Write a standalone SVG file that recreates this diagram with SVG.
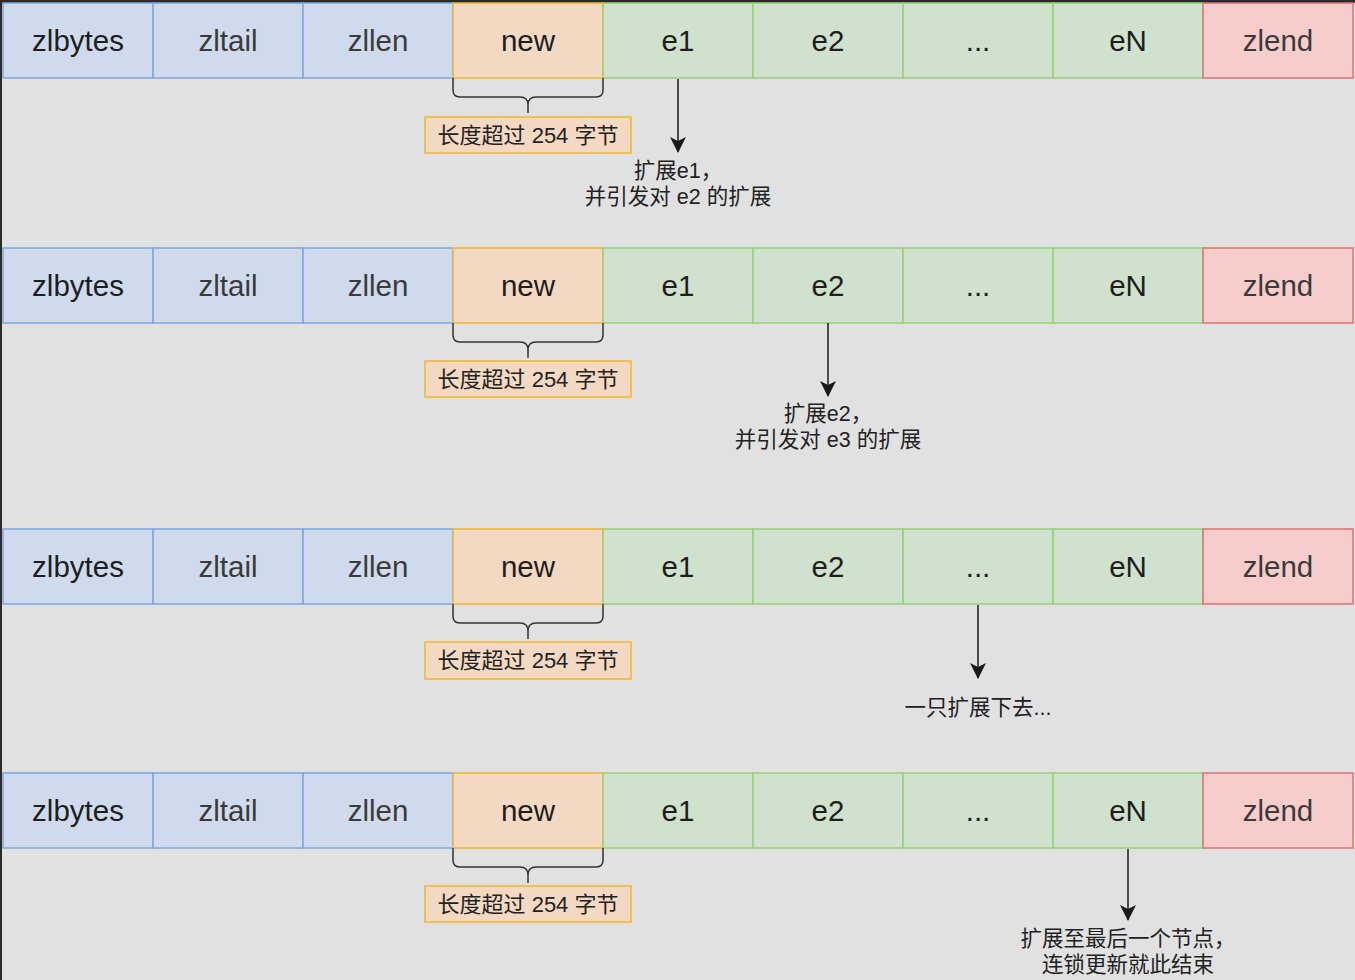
<svg xmlns="http://www.w3.org/2000/svg" width="1355" height="980" viewBox="0 0 1355 980">
<defs>
<style>
.bg{fill:#e1e1e1}
.b{fill:#cfdbec;stroke:#7ea6e0;stroke-width:1.5}
.o{fill:#f3d9c2;stroke:#f2b52c;stroke-width:1.5}
.g{fill:#d0e1cd;stroke:#97d077;stroke-width:1.5}
.r{fill:#f7cdcc;stroke:#e07070;stroke-width:1.5}
.t{font-family:"Liberation Sans","Noto Sans CJK SC",sans-serif;font-size:29.5px;fill:#1e1e1e;text-anchor:middle}
.t2{fill:#3a3a3a}
.lb{font-family:"Liberation Sans","Noto Sans CJK SC",sans-serif;font-size:22px;fill:#222;text-anchor:middle}
.at{font-family:"Liberation Sans","Noto Sans CJK SC",sans-serif;font-size:21.5px;fill:#222;text-anchor:middle}
.brace{fill:none;stroke:#333;stroke-width:1.5}
.arr{stroke:#1a1a1a;stroke-width:1.5;fill:none;marker-end:url(#ah)}
</style>
<marker id="ah" viewBox="0 0 16 16" refX="15" refY="8" markerWidth="16" markerHeight="16" markerUnits="userSpaceOnUse" orient="auto">
<path d="M0,0 L4,8 L0,16 L16,8 Z" fill="#1a1a1a"/>
</marker>
</defs>
<rect class="bg" x="0" y="0" width="1355" height="980"/>
<rect x="0" y="0" width="1355" height="3" fill="#2b2b2b"/>
<rect x="0" y="0" width="2" height="980" fill="#2b2b2b"/>

<!-- Row 1 -->
<g id="row1">
<g id="r1-zlbytes"><rect class="b" x="3" y="3" width="150" height="75"/><text class="t" x="78" y="51">zlbytes</text></g>
<g id="r1-zltail"><rect class="b" x="153" y="3" width="150" height="75"/><text class="t t2" x="228" y="51">zltail</text></g>
<g id="r1-zllen"><rect class="b" x="303" y="3" width="150" height="75"/><text class="t t2" x="378" y="51">zllen</text></g>
<g id="r1-new"><rect class="o" x="453" y="3" width="150" height="75"/><text class="t" x="528" y="51">new</text></g>
<g id="r1-e1"><rect class="g" x="603" y="3" width="150" height="75"/><text class="t" x="678" y="51">e1</text></g>
<g id="r1-e2"><rect class="g" x="753" y="3" width="150" height="75"/><text class="t" x="828" y="51">e2</text></g>
<g id="r1-dots"><rect class="g" x="903" y="3" width="150" height="75"/><text class="t" x="978" y="51">...</text></g>
<g id="r1-eN"><rect class="g" x="1053" y="3" width="150" height="75"/><text class="t" x="1128" y="51">eN</text></g>
<g id="r1-zlend"><rect class="r" x="1203" y="3" width="150" height="75"/><text class="t t2" x="1278" y="51">zlend</text></g>
<g id="r1-label"><rect class="o" x="425" y="117" width="206" height="36"/><text class="lb" x="528" y="143">长度超过 254 字节</text></g>
<g id="r1-note"><text class="at" x="678" y="178">扩展e1，</text><text class="at" x="678" y="204">并引发对 e2 的扩展</text></g>
</g>

<!-- Row 2 -->
<g id="row2">
<g id="r2-zlbytes"><rect class="b" x="3" y="248" width="150" height="75"/><text class="t" x="78" y="296">zlbytes</text></g>
<g id="r2-zltail"><rect class="b" x="153" y="248" width="150" height="75"/><text class="t t2" x="228" y="296">zltail</text></g>
<g id="r2-zllen"><rect class="b" x="303" y="248" width="150" height="75"/><text class="t t2" x="378" y="296">zllen</text></g>
<g id="r2-new"><rect class="o" x="453" y="248" width="150" height="75"/><text class="t" x="528" y="296">new</text></g>
<g id="r2-e1"><rect class="g" x="603" y="248" width="150" height="75"/><text class="t" x="678" y="296">e1</text></g>
<g id="r2-e2"><rect class="g" x="753" y="248" width="150" height="75"/><text class="t" x="828" y="296">e2</text></g>
<g id="r2-dots"><rect class="g" x="903" y="248" width="150" height="75"/><text class="t" x="978" y="296">...</text></g>
<g id="r2-eN"><rect class="g" x="1053" y="248" width="150" height="75"/><text class="t" x="1128" y="296">eN</text></g>
<g id="r2-zlend"><rect class="r" x="1203" y="248" width="150" height="75"/><text class="t t2" x="1278" y="296">zlend</text></g>
<g id="r2-label"><rect class="o" x="425" y="361" width="206" height="36"/><text class="lb" x="528" y="387">长度超过 254 字节</text></g>
<g id="r2-note"><text class="at" x="828" y="421">扩展e2，</text><text class="at" x="828" y="447">并引发对 e3 的扩展</text></g>
</g>

<!-- Row 3 -->
<g id="row3">
<g id="r3-zlbytes"><rect class="b" x="3" y="529" width="150" height="75"/><text class="t" x="78" y="577">zlbytes</text></g>
<g id="r3-zltail"><rect class="b" x="153" y="529" width="150" height="75"/><text class="t t2" x="228" y="577">zltail</text></g>
<g id="r3-zllen"><rect class="b" x="303" y="529" width="150" height="75"/><text class="t t2" x="378" y="577">zllen</text></g>
<g id="r3-new"><rect class="o" x="453" y="529" width="150" height="75"/><text class="t" x="528" y="577">new</text></g>
<g id="r3-e1"><rect class="g" x="603" y="529" width="150" height="75"/><text class="t" x="678" y="577">e1</text></g>
<g id="r3-e2"><rect class="g" x="753" y="529" width="150" height="75"/><text class="t" x="828" y="577">e2</text></g>
<g id="r3-dots"><rect class="g" x="903" y="529" width="150" height="75"/><text class="t" x="978" y="577">...</text></g>
<g id="r3-eN"><rect class="g" x="1053" y="529" width="150" height="75"/><text class="t" x="1128" y="577">eN</text></g>
<g id="r3-zlend"><rect class="r" x="1203" y="529" width="150" height="75"/><text class="t t2" x="1278" y="577">zlend</text></g>
<g id="r3-label"><rect class="o" x="425" y="642" width="206" height="37"/><text class="lb" x="528" y="668">长度超过 254 字节</text></g>
<g id="r3-note"><text class="at" x="978" y="715">一只扩展下去...</text></g>
</g>

<!-- Row 4 -->
<g id="row4">
<g id="r4-zlbytes"><rect class="b" x="3" y="773" width="150" height="75"/><text class="t" x="78" y="821">zlbytes</text></g>
<g id="r4-zltail"><rect class="b" x="153" y="773" width="150" height="75"/><text class="t t2" x="228" y="821">zltail</text></g>
<g id="r4-zllen"><rect class="b" x="303" y="773" width="150" height="75"/><text class="t t2" x="378" y="821">zllen</text></g>
<g id="r4-new"><rect class="o" x="453" y="773" width="150" height="75"/><text class="t" x="528" y="821">new</text></g>
<g id="r4-e1"><rect class="g" x="603" y="773" width="150" height="75"/><text class="t" x="678" y="821">e1</text></g>
<g id="r4-e2"><rect class="g" x="753" y="773" width="150" height="75"/><text class="t" x="828" y="821">e2</text></g>
<g id="r4-dots"><rect class="g" x="903" y="773" width="150" height="75"/><text class="t" x="978" y="821">...</text></g>
<g id="r4-eN"><rect class="g" x="1053" y="773" width="150" height="75"/><text class="t" x="1128" y="821">eN</text></g>
<g id="r4-zlend"><rect class="r" x="1203" y="773" width="150" height="75"/><text class="t t2" x="1278" y="821">zlend</text></g>
<g id="r4-label"><rect class="o" x="425" y="886" width="206" height="36"/><text class="lb" x="528" y="912">长度超过 254 字节</text></g>
<g id="r4-note"><text class="at" x="1128" y="946">扩展至最后一个节点，</text><text class="at" x="1128" y="972">连锁更新就此结束</text></g>
</g>

<!-- Connectors -->
<g id="connectors">
<path class="brace" d="M453,78 V90 Q453,97 460,97 H520 Q528,97 528,105 V113 M528,105 Q528,97 536,97 H596 Q603,97 603,90 V78"/>
<path class="brace" d="M453,323 V335 Q453,342 460,342 H520 Q528,342 528,350 V358 M528,350 Q528,342 536,342 H596 Q603,342 603,335 V323"/>
<path class="brace" d="M453,604 V616 Q453,623 460,623 H520 Q528,623 528,631 V639 M528,631 Q528,623 536,623 H596 Q603,623 603,616 V604"/>
<path class="brace" d="M453,848 V860 Q453,867 460,867 H520 Q528,867 528,875 V883 M528,875 Q528,867 536,867 H596 Q603,867 603,860 V848"/>
<line class="arr" x1="678" y1="79" x2="678" y2="152"/>
<line class="arr" x1="828" y1="323" x2="828" y2="396"/>
<line class="arr" x1="978" y1="605" x2="978" y2="678"/>
<line class="arr" x1="1128" y1="849" x2="1128" y2="920"/>
</g>
</svg>
